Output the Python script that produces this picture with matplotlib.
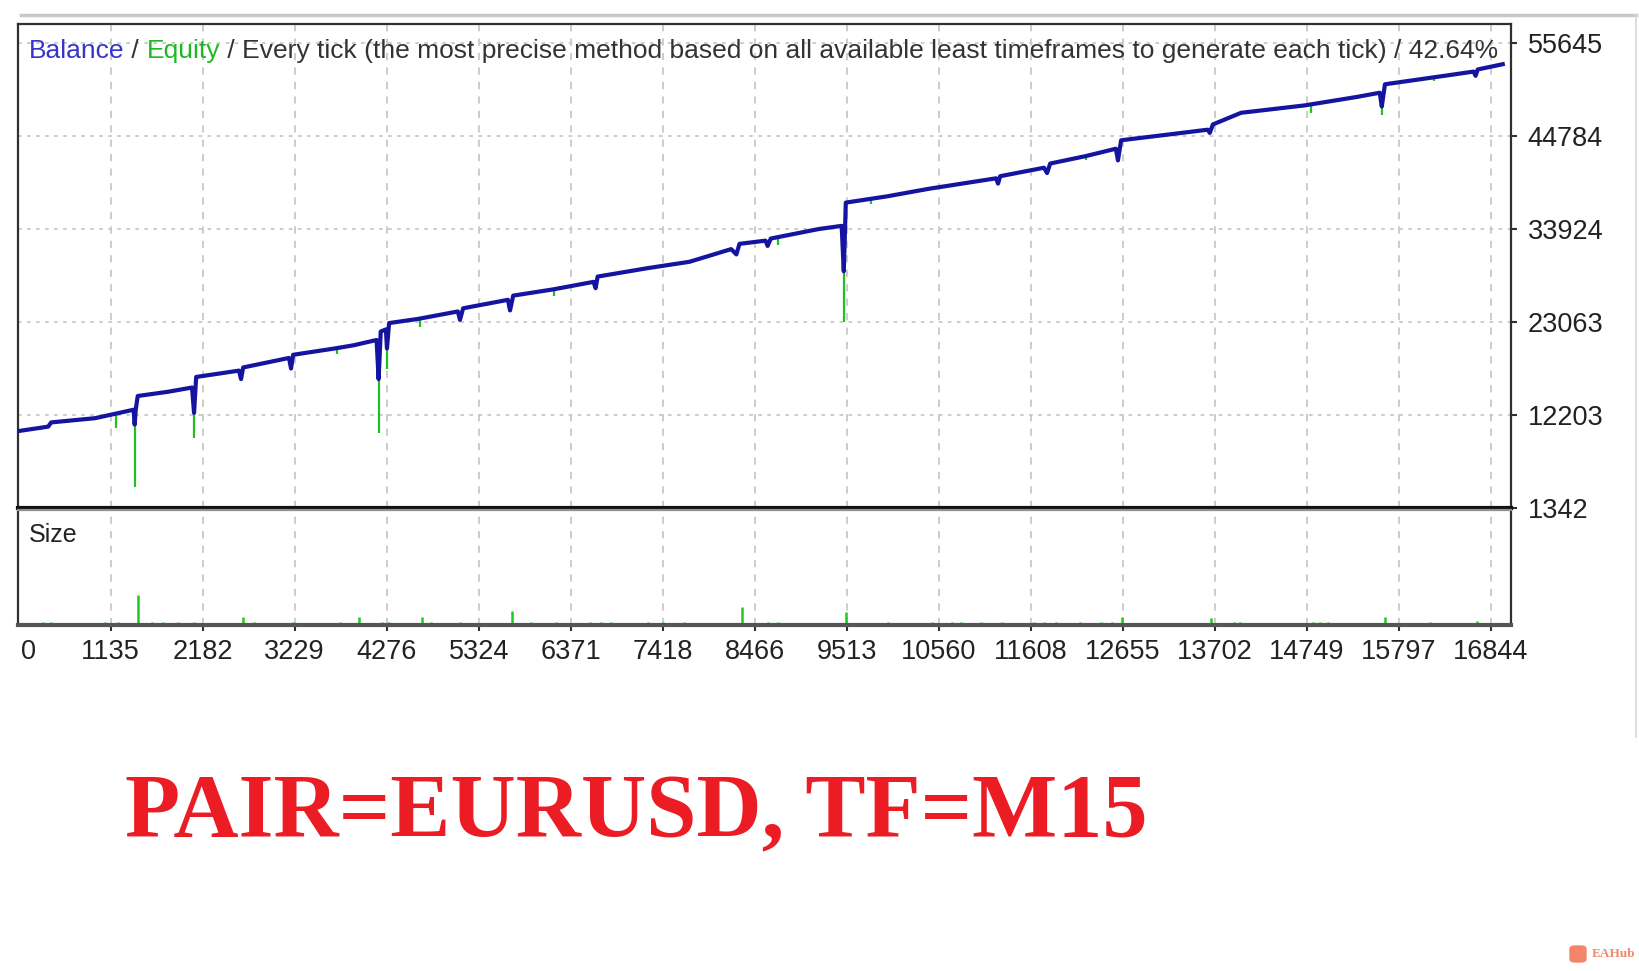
import matplotlib
matplotlib.use('Agg')
import matplotlib.pyplot as plt
from matplotlib.lines import Line2D
from matplotlib.patches import FancyBboxPatch
import numpy as np

plt.rcParams['font.family'] = ['Liberation Sans', 'DejaVu Sans']

# balance curve (trade number, balance), dips included
bal_x = [100, 423, 458, 957, 1396, 1408, 1420, 1443, 1788, 2061, 2084, 2108,
         2595, 2619, 2643, 3165, 3188, 3212, 3687, 3901, 4162, 4185, 4209,
         4268, 4280, 4304, 4637, 5087, 5111, 5147, 5657, 5681, 5717, 6180,
         6631, 6655, 6678, 7248, 7723, 8198, 8257, 8293, 8589, 8613, 8649,
         9195, 9456, 9480, 9503, 9978, 10441, 11213, 11236, 11260, 11759,
         11794, 11830, 12233, 12577, 12601, 12637, 13231, 13622, 13646,
         13682, 14002, 14726, 15320, 15581, 15604, 15640, 16317, 16649,
         16672, 16696, 16981]
bal_y = [10350, 10844, 11337, 11831, 12818, 11091, 12818, 14422, 14916, 15410,
         12448, 16644, 17384, 16397, 17754, 18865, 17631, 19235, 19975, 20346,
         20963, 16397, 21950, 22196, 19975, 22937, 23430, 24294, 23307, 24665,
         25652, 24418, 26145, 26886, 27750, 27009, 28367, 29354, 30094, 31575,
         30958, 32192, 32562, 31945, 32809, 33920, 34290, 28984, 37005, 37745,
         38609, 39843, 39226, 40090, 41077, 40460, 41570, 42434, 43298, 41940,
         44286, 45026, 45519, 45149, 46136, 47494, 48357, 49345, 49838, 48234,
         50825, 51813, 52306, 51813, 52553, 53170]

# equity drawdown spikes: trade number, equity before, equity low
eq_x = [1194, 1408, 2084, 3710, 4185, 4280, 4660, 6180, 8732, 9480, 9790,
        12233, 14800, 15604, 16200]
eq_top = [12324, 12818, 15410, 19975, 20963, 22196, 23430, 26886, 32809,
          34290, 37500, 42434, 48481, 49838, 51700]
eq_low = [10720, 3810, 9486, 19360, 10103, 17631, 22443, 26145, 32070,
          23060, 36900, 41940, 47494, 47247, 51200]

# position size per trade
size_x = [363, 458, 1075, 1218, 1443, 1610, 1729, 1906, 2084, 2642, 2761,
          3212, 3746, 3960, 4221, 4304, 4684, 4779, 5111, 5705, 5918, 6203,
          6595, 6714, 6833, 7248, 7426, 7663, 8316, 8613, 8732, 9503, 9978,
          10488, 10714, 10809, 11046, 11284, 11640, 11759, 11901, 12174,
          12412, 12530, 12649, 13658, 13919, 13990, 14821, 14904, 14987,
          15640, 16150, 16684]
size_v = [0.01, 0.01, 0.01, 0.01, 0.10, 0.01, 0.01, 0.01, 0.01, 0.027, 0.01,
          0.01, 0.01, 0.025, 0.01, 0.01, 0.027, 0.01, 0.01, 0.045, 0.01, 0.01,
          0.01, 0.01, 0.01, 0.01, 0.01, 0.01, 0.06, 0.01, 0.01, 0.043, 0.01,
          0.01, 0.01, 0.01, 0.01, 0.01, 0.01, 0.01, 0.01, 0.01,
          0.01, 0.01, 0.027, 0.023, 0.01, 0.01, 0.01, 0.01, 0.01,
          0.027, 0.01, 0.013]

y_ticks = [1342, 12203, 23063, 33924, 44784, 55645]
x_labels = ['0', '1135', '2182', '3229', '4276', '5324', '6371', '7418', '8466',
            '9513', '10560', '11608', '12655', '13702', '14749', '15797', '16844']
x_ticks = [int(s) for s in x_labels]
x_ticks[0] = 200

W, H = 1640, 971
fig = plt.figure(figsize=(16.4, 9.71), dpi=100)
left, right = 18 / W, 1511 / W
ax = fig.add_axes([left, 1 - 508 / H, right - left, 484 / H])
ax2 = fig.add_axes([left, 1 - 625 / H, right - left, 115 / H])

grid_c = '#c8c8c8'
for a in (ax, ax2):
    a.set_xlim(80, 17075)
    a.set_xticks(x_ticks)
    a.grid(axis='x', color=grid_c, lw=1.3, linestyle=(0, (4, 4)))
    a.set_axisbelow(True)
    a.get_xgridlines()[0].set_visible(False)
    for s in a.spines.values():
        s.set_color('#303030')
        s.set_linewidth(1.6)

# main panel
ax.vlines(eq_x, eq_low, eq_top, color='#22c022', lw=1.6, zorder=2)
ax.plot(bal_x, bal_y, color='#1414a0', lw=3.0, zorder=3, solid_joinstyle='round')
ax.set_ylim(1342, 57864)
ax.set_yticks(y_ticks)
ax.grid(axis='y', color=grid_c, lw=1.3, linestyle=(0, (2, 3)))
ax.yaxis.tick_right()
ax.tick_params(axis='y', length=4, width=1.5, color='#303030', labelsize=19.5,
               labelcolor='#222222', pad=8)
ax.tick_params(axis='x', bottom=False, labelbottom=False)
ax.spines['bottom'].set_linewidth(3)
ax.spines['bottom'].set_color('#111111')

# header line of the report
head = [('Balance', '#3535cc'), (' / ', '#333333'), ('Equity', '#20b820'),
        (' / Every tick (the most precise method based on all available least '
         'timeframes to generate each tick) / 42.64%', '#333333')]
fs = 18
texts = [ax.text(11 / 1493, 0.945, head[0][0], transform=ax.transAxes,
                 fontsize=fs, color=head[0][1], va='center', ha='left')]
for s, c in head[1:]:
    texts.append(ax.annotate(s, xy=(1, 0), xycoords=texts[-1], fontsize=fs,
                             color=c, va='bottom', ha='left'))
fig.canvas.draw()
r = fig.canvas.get_renderer()
span = texts[-1].get_window_extent(r).x1 - texts[0].get_window_extent(r).x0
for t in texts:
    t.set_fontsize(fs * 1469 / span)

# size panel
ax2.vlines(size_x, 0, size_v, color='#22c822', lw=1.8)
ax2.set_ylim(0, 0.383)
ax2.set_yticks([])
ax2.set_xticklabels(x_labels)
ax2.tick_params(axis='x', length=4, width=1.5, color='#303030', labelsize=19.5,
                labelcolor='#222222', pad=6)
ax2.xaxis.get_major_ticks()[0].tick1line.set_visible(False)
ax2.spines['top'].set_color('#909090')
ax2.spines['bottom'].set_linewidth(3)
ax2.spines['bottom'].set_color('#555555')
ax2.text(11 / 1493, 0.78, 'Size', transform=ax2.transAxes, fontsize=18,
         color='#222222', va='center', ha='left')

# frame lines around the screenshot
fig.add_artist(Line2D([21 / W, 1636 / W], [1 - 15 / H] * 2, color='#c8c8c8', lw=2.5))
fig.add_artist(Line2D([1636 / W] * 2, [1 - 15 / H, 1 - 737 / H], color='#d8d8d8', lw=1.2))

fig.text(125 / W, 1 - 815 / H, 'PAIR=EURUSD, TF=M15', fontsize=65,
         fontweight='bold', family=['Liberation Serif', 'DejaVu Serif'],
         color='#ec1c24', va='center', ha='left')

# watermark
fig.add_artist(FancyBboxPatch((1570 / W, 1 - 962 / H), 16 / W, 16 / H,
                              boxstyle='round,pad=0,rounding_size=0.003',
                              transform=fig.transFigure, color='#f4856a'))
fig.text(1592 / W, 1 - 954 / H, 'EAHub', fontsize=9.5, color='#f4856a',
         fontweight='bold', family=['Liberation Serif', 'DejaVu Serif'],
         va='center', ha='left')

fig.savefig('out.png', dpi=100, facecolor='white')
